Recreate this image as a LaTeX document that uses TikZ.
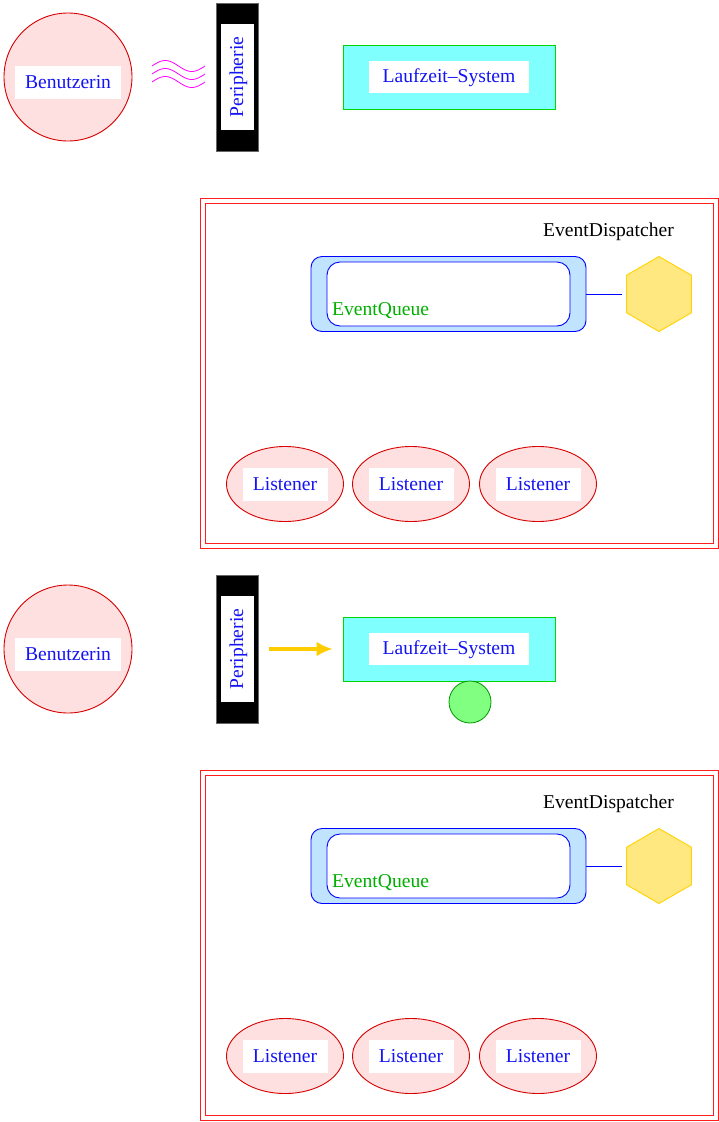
\documentclass[tikz,border=0pt]{standalone}
\usepackage{fontspec}
\setmainfont{Liberation Serif}
\usetikzlibrary{shapes.geometric,arrows.meta}
\definecolor{pinkfill}{RGB}{255,224,224}
\definecolor{redline}{RGB}{215,0,0}
\definecolor{frame}{RGB}{255,30,30}
\definecolor{txtblue}{RGB}{20,20,245}
\definecolor{cyanfill}{RGB}{128,255,255}
\definecolor{greenline}{RGB}{0,215,0}
\definecolor{qfill}{RGB}{192,228,255}
\definecolor{hexfill}{RGB}{255,232,128}
\definecolor{hexline}{RGB}{255,210,0}
\definecolor{gcfill}{RGB}{128,255,128}
\definecolor{gcline}{RGB}{0,150,0}
\definecolor{arrowc}{RGB}{255,204,0}
\definecolor{qtext}{RGB}{0,175,0}
\definecolor{wavec}{RGB}{255,0,255}
\tikzset{
  bigfont/.style={font=\fontsize{19.6}{23}\selectfont},
  whitebox/.style={fill=white, draw=none, bigfont, text=txtblue, inner sep=0pt, text height=14pt, text depth=3pt, minimum height=33pt},
  usercircle/.style={circle, draw=redline, fill=pinkfill, line width=0.9pt, minimum size=128pt, inner sep=0pt},
  periph/.style={fill=black, draw=black!60, minimum width=42pt, minimum height=148pt, inner sep=0pt},
  laufbox/.style={fill=cyanfill, draw=greenline, line width=0.9pt, minimum width=212pt, minimum height=64pt, inner sep=0pt},
  listener/.style={ellipse, draw=redline, fill=pinkfill, line width=0.9pt, minimum width=117pt, minimum height=75pt, inner sep=0pt},
  qouter/.style={rounded corners=11pt, draw=blue, fill=qfill, line width=0.9pt, minimum width=275pt, minimum height=75pt, inner sep=0pt},
  qinner/.style={rounded corners=13pt, draw=blue, fill=white, line width=0.9pt, minimum width=243pt, minimum height=64pt, inner sep=0pt},
  hexa/.style={regular polygon, regular polygon sides=6, shape border rotate=30, draw=hexline, fill=hexfill, line width=0.9pt, minimum size=75pt, inner sep=0pt},
  wave/.style={wavec, line width=0.8pt},
}
\newcommand\drawpanel{%
  \node[usercircle] (user) at (68,77) {};
  \node[whitebox, minimum width=106pt] (userlbl) at (68,82.5) {Benutzerin};
  \node[periph] (peri) at (237,77) {};
  \node[whitebox, minimum width=106pt, rotate=90, minimum height=33pt] (perilbl) at (237.5,77) {Peripherie};
  \node[laufbox] (lauf) at (449,77) {};
  \node[whitebox, minimum width=160pt, minimum height=32pt] (lauflbl) at (449,77) {Laufzeit–System};
  \node[draw=frame, line width=0.9pt, minimum width=518pt, minimum height=350pt, inner sep=0pt] (edout) at (459,373) {};
  \node[draw=frame, line width=0.9pt, minimum width=508pt, minimum height=340pt, inner sep=0pt] (edin) at (459,373) {};
  \node[bigfont, anchor=base west, inner sep=0pt] (edlbl) at (543,236) {EventDispatcher};
  \node[qouter] (qout) at (448.5,294) {};
  \node[qinner] (qin) at (448.5,294) {};
  \node[bigfont, text=qtext, anchor=base west, inner sep=0pt] (qlbl) at (332,315) {EventQueue};
  \node[hexa] (hex) at (659,294) {};
  \draw[blue, line width=0.9pt, shorten >=4pt] (qout.east) -- (hex.west);
  \foreach \i/\x in {1/285, 2/411, 3/538}{
    \node[listener] (lis\i) at (\x,484) {};
    \node[whitebox, minimum width=85pt] (lislbl\i) at (\x,484.5) {Listener};
  }
}
\begin{document}
\begin{tikzpicture}[x=1pt,y=-1pt]
\useasboundingbox (0,0) rectangle (719,1122);
\begin{scope}[name prefix=a-]
  \drawpanel
  \foreach \yy in {66,74,82}{
    \draw[wave] plot[domain=152:205, samples=40, smooth] (\x, {\yy - 5.5*sin((\x-152)/53*360)});
  }
\end{scope}
\begin{scope}[shift={(0,572)}, name prefix=b-]
  \drawpanel
  \node[circle, draw=gcline, fill=gcfill, line width=0.8pt, minimum size=42pt, inner sep=0pt] (gc) at (470,130) {};
  \draw[arrowc, line width=4pt, -{Latex[length=16pt,width=15pt]}, shorten <=11pt, shorten >=10pt] (peri) -- (lauf);
\end{scope}
\end{tikzpicture}
\end{document}
